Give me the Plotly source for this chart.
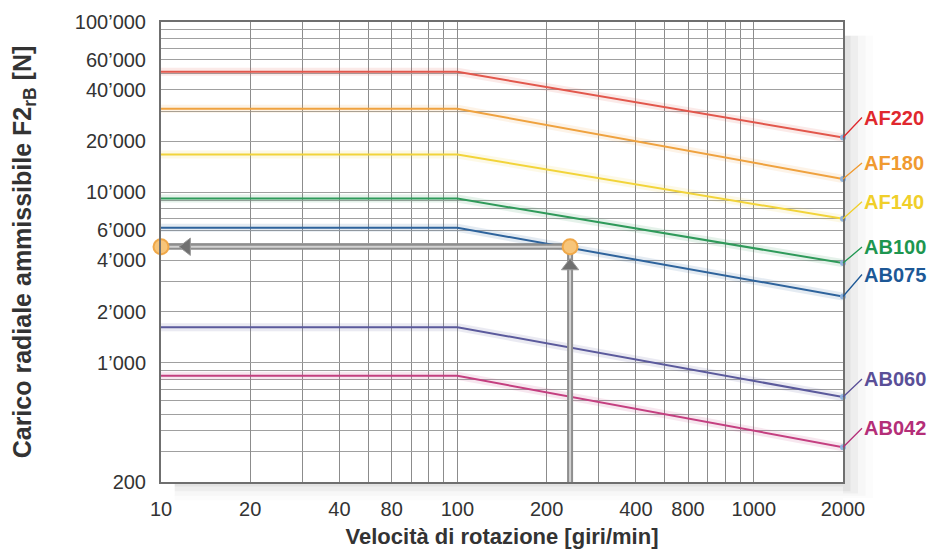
import numpy as np
import plotly.graph_objects as go

# ---------------- data ----------------
speeds = [10, 100, 2000]                 # giri/min
series_names = ["AF220", "AF180", "AF140", "AB100", "AB075", "AB060", "AB042"]
AF220 = [51000, 51000, 21000]
AF180 = [31000, 31000, 12000]
AF140 = [16700, 16700, 7000]
AB100 = [9200, 9200, 3850]
AB075 = [6200, 6200, 2450]
AB060 = [1620, 1620, 630]
AB042 = [840, 840, 320]
series_values = [AF220, AF180, AF140, AB100, AB075, AB060, AB042]

# operating-point example (arrows)
op_speed = 240
op_load = 4800
arrow_left_x = 12.2
arrow_up_y = 3700
x_min, x_max = 10, 2000
y_min, y_max = 200, 100000

x_tickvals = [10, 20, 40, 60, 100, 200, 400, 600, 1000, 2000]
x_ticktext = ["10", "20", "40", "80", "100", "200", "400", "800", "1000", "2000"]
x_minor = [30, 50, 70, 80, 90, 300, 500, 700, 800, 900]
y_tickvals = [200, 1000, 2000, 4000, 6000, 10000, 20000, 40000, 60000, 100000]
y_ticktext = ["200", "1’000", "2’000", "4’000", "6’000", "10’000", "20’000",
              "40’000", "60’000", "100’000"]
y_minor = [300, 400, 500, 600, 700, 800, 900, 3000, 5000, 7000, 8000, 9000,
           30000, 50000, 70000, 80000, 90000]

# styling
line_colors = ["#e2574c", "#efa23f", "#f2d43a", "#2f9a5a", "#2e639c", "#5b5a9c", "#c43f80"]
label_colors = ["#e0282e", "#f09a30", "#f0cf2a", "#1e9650", "#1d5896", "#5a4f98", "#b42e78"]
label_offsets = [-20, -16, -17, -16, -22, -18, -19]

fig = go.Figure()

# glow under lines
for vals, col in zip(series_values, line_colors):
    fig.add_trace(go.Scatter(x=speeds, y=vals, mode="lines",
                             line=dict(color=col, width=8), opacity=0.12,
                             hoverinfo="skip", showlegend=False))
for name, vals, col in zip(series_names, series_values, line_colors):
    fig.add_trace(go.Scatter(x=speeds, y=vals, mode="lines", name=name,
                             line=dict(color=col, width=2), showlegend=False))

# end dots
fig.add_trace(go.Scatter(x=[speeds[-1]] * len(series_values),
                         y=[v[-1] for v in series_values], mode="markers",
                         marker=dict(color="#8fb4e0", size=6), showlegend=False,
                         hoverinfo="skip", cliponaxis=False))

# operating point arrows (grey tubes)
for w, c in [(6, "#8e8e8e"), (2, "#d2d2d2")]:
    fig.add_trace(go.Scatter(x=[x_min, op_speed], y=[op_load, op_load], mode="lines",
                             line=dict(color=c, width=w), showlegend=False,
                             hoverinfo="skip", cliponaxis=False))
    fig.add_trace(go.Scatter(x=[op_speed, op_speed], y=[y_min, op_load], mode="lines",
                             line=dict(color=c, width=w), showlegend=False,
                             hoverinfo="skip", cliponaxis=False))
fig.add_trace(go.Scatter(x=[arrow_left_x], y=[op_load], mode="markers",
                         marker=dict(symbol="triangle-left", size=15, color="#707070",
                                     line=dict(color="#9a9a9a", width=1)),
                         showlegend=False, hoverinfo="skip"))
fig.add_trace(go.Scatter(x=[op_speed], y=[arrow_up_y], mode="markers",
                         marker=dict(symbol="triangle-up", size=15, color="#707070",
                                     line=dict(color="#9a9a9a", width=1)),
                         showlegend=False, hoverinfo="skip"))
fig.add_trace(go.Scatter(x=[x_min, op_speed], y=[op_load, op_load], mode="markers",
                         marker=dict(symbol="circle", size=15, color="#f7c57a",
                                     line=dict(color="#f0a848", width=2)),
                         showlegend=False, hoverinfo="skip", cliponaxis=False))

# labels with leaders
annotations = []
for name, vals, col, off in zip(series_names, series_values, label_colors, label_offsets):
    annotations.append(dict(
        x=np.log10(speeds[-1]), y=np.log10(vals[-1]), xref="x", yref="y",
        ax=19, ay=off, showarrow=True, arrowhead=0, arrowwidth=1.3,
        arrowcolor=col, xanchor="left", yanchor="middle",
        text=f"<b>{name}</b>",
        font=dict(family="Liberation Sans, Arial, sans-serif", size=20, color=col)))

# soft shadow of the frame
shapes = []
for i, op in enumerate([0.07, 0.05, 0.03, 0.02]):
    d = 0.005 * (i + 1)
    shapes.append(dict(type="rect", xref="paper", yref="paper",
                       x0=1.0, x1=1.0 + d * 2.2, y0=-0.015 - d, y1=0.97,
                       fillcolor="#555", opacity=op, line=dict(width=0), layer="below"))
    shapes.append(dict(type="rect", xref="paper", yref="paper",
                       x0=0.02, x1=1.0, y0=-d * 2.0, y1=0.0,
                       fillcolor="#555", opacity=op, line=dict(width=0), layer="below"))

tick_font = dict(family="Liberation Sans, Arial, sans-serif", size=20, color="#333")
xtitle_font = dict(family="Liberation Sans, Arial, sans-serif", size=22, color="#333", weight="bold")
ytitle_font = dict(family="Liberation Sans, Arial, sans-serif", size=25, color="#333", weight="bold")

fig.update_layout(
    width=928, height=549,
    margin=dict(l=153, r=93, t=14, b=75),
    paper_bgcolor="white", plot_bgcolor="white",
    showlegend=False,
    annotations=annotations, shapes=shapes,
    xaxis=dict(type="log", range=[np.log10(x_min), np.log10(x_max)],
               automargin=False,
               tickmode="array", tickvals=x_tickvals, ticktext=x_ticktext,
               tickfont=tick_font, ticks="", ticklabelstandoff=8,
               showgrid=True, gridcolor="#8c8c8c", gridwidth=1,
               minor=dict(tickmode="array", tickvals=x_minor, showgrid=True,
                          gridcolor="#8c8c8c", gridwidth=1, ticks=""),
               showline=True, linecolor="#6f6f6f", linewidth=2, mirror=True,
               zeroline=False,
               title=dict(text="Velocità di rotazione [giri/min]", font=xtitle_font,
                          standoff=10)),
    yaxis=dict(type="log", range=[np.log10(y_min), np.log10(y_max)],
               automargin=False,
               tickmode="array", tickvals=y_tickvals, ticktext=y_ticktext,
               tickfont=tick_font, ticks="", ticklabelstandoff=9,
               showgrid=True, gridcolor="#a0a0a0", gridwidth=1,
               minor=dict(tickmode="array", tickvals=y_minor, showgrid=True,
                          gridcolor="#a0a0a0", gridwidth=1, ticks=""),
               showline=True, linecolor="#6f6f6f", linewidth=2, mirror=True,
               zeroline=False,
               title=dict(text="Carico radiale ammissibile F2<sub>rB</sub> [N]",
                          font=ytitle_font, standoff=36)),
)

fig.write_html("out.html")
